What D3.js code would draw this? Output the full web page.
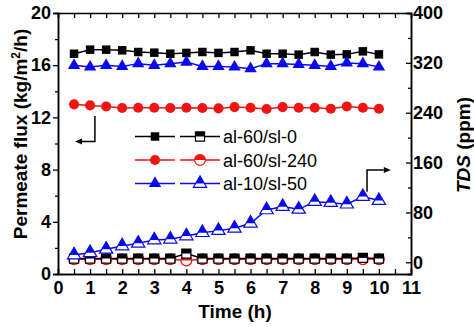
<!DOCTYPE html>
<html>
<head>
<meta charset="utf-8">
<script src="https://cdn.jsdelivr.net/npm/d3@7"></script>
<style>
  body { margin: 0; background: #fff; }
  svg { display: block; font-family: "Liberation Sans", Arial, sans-serif; }
</style>
</head>
<body>
<div id="chart"></div>
<script>
// data
const hours = [0.5, 1, 1.5, 2, 2.5, 3, 3.5, 4, 4.5, 5, 5.5, 6, 6.5, 7, 7.5, 8, 8.5, 9, 9.5, 10];

const fluxBlack = [16.88, 17.19, 17.19, 17.14, 17.01, 16.96, 16.88, 16.94, 17.01, 16.94,
                   17.01, 17.14, 16.88, 16.88, 16.81, 17.01, 16.81, 16.83, 17.06, 16.83];
const fluxRed   = [13.0, 12.92, 12.84, 12.72, 12.74, 12.74, 12.72, 12.74, 12.72, 12.69,
                   12.79, 12.74, 12.64, 12.79, 12.74, 12.74, 12.66, 12.84, 12.74, 12.66];
const fluxBlue  = [15.99, 15.86, 15.99, 15.91, 16.12, 15.99, 16.12, 16.24, 15.91, 15.91,
                   15.86, 15.73, 16.12, 16.12, 16.06, 15.99, 15.91, 16.17, 16.12, 15.86];

const tdsBlack = [6, 6, 6, 6, 6, 6, 6, 14, 6, 6, 6, 6, 6, 6, 6, 6, 6, 6, 7, 6];
const tdsRed   = [5, 5, 5, 5, 5, 5, 5, 3, 5, 5, 5, 5, 5, 5, 5, 5, 5, 5, 5, 5];
const tdsBlue  = [11.7, 15.4, 20.9, 26.2, 30.5, 35.8, 37, 42.2, 47.5, 50.8,
                  54.6, 62.7, 84, 89.3, 85, 97.3, 95.7, 93.2, 105.4, 99];

const seriesNames = ["al-60/sl-0", "al-60/sl-240", "al-10/sl-50"];

const xTicks    = [0, 1, 2, 3, 4, 5, 6, 7, 8, 9, 10, 11];
const xMinor    = [0.5, 1.5, 2.5, 3.5, 4.5, 5.5, 6.5, 7.5, 8.5, 9.5, 10.5];
const fluxTicks = [0, 4, 8, 12, 16, 20];
const fluxMinor = [2, 6, 10, 14, 18];
const tdsTicks  = [0, 80, 160, 240, 320, 400];
const tdsMinor  = [40, 120, 200, 280, 360];

// arrows pointing to the axis each group belongs to: [hour, value] in data units
const leftArrow  = [[1.15, 12.1], [1.15, 10.15], [0.53, 10.15]];
const rightArrow = [[9.63, 113], [9.63, 148], [10.37, 148]];

// layout
const W = 474, H = 327;
const plot = { left: 58, right: 411, top: 13, bottom: 274 };

const svg = d3.select("#chart").append("svg")
  .attr("width", W)
  .attr("height", H);

const x = d3.scaleLinear().domain([0, 11]).range([plot.left, plot.right]);
const y = d3.scaleLinear().domain([0, 20]).range([plot.bottom, plot.top]);
const y2 = d3.scaleLinear().domain([-18.8, 400]).range([plot.bottom, plot.top]);

const colors = ["#000000", "#f01414", "#0a0aec"];
const symbols = [d3.symbolSquare, d3.symbolCircle, d3.symbolTriangle];
const sizes = [72, 80, 66];

// top half of each marker shape, same geometry as d3.symbol for a given size
function topHalf(k, size) {
  if (k === 0) {
    const s = Math.sqrt(size) / 2;
    return `M${-s},${-s}H${s}V0H${-s}Z`;
  }
  if (k === 1) {
    const r = Math.sqrt(size / Math.PI);
    return `M${-r},0A${r},${r} 0 0 1 ${r},0Z`;
  }
  const h = Math.sqrt(size / (Math.sqrt(3) * 3));
  const w = 2 * Math.sqrt(3) * h / 3;
  return `M0,${-2 * h}L${w},0L${-w},0Z`;
}

// axes frame
function styleAxis(g) {
  g.select(".domain").attr("stroke", "#000").attr("stroke-width", 1.5);
  g.selectAll(".tick line").attr("stroke", "#000").attr("stroke-width", 1.3);
  g.selectAll("text")
    .attr("fill", "#000")
    .attr("font-size", "18px")
    .attr("font-weight", "bold")
    .attr("font-family", "'Liberation Sans', Arial, sans-serif");
}

// bottom
svg.append("g")
  .attr("transform", `translate(0,${plot.bottom})`)
  .call(d3.axisBottom(x).tickValues(xTicks).tickSize(0).tickPadding(7).tickFormat(d3.format("d")))
  .call(styleAxis);
svg.append("g")
  .attr("transform", `translate(0,${plot.bottom})`)
  .call(d3.axisBottom(x).tickValues(xTicks.concat(xMinor)).tickSize(-5).tickFormat(""))
  .call(styleAxis);
// top
svg.append("g")
  .attr("transform", `translate(0,${plot.top})`)
  .call(d3.axisTop(x).tickValues(xTicks.concat(xMinor)).tickSize(-5).tickFormat(""))
  .call(styleAxis);
// left
svg.append("g")
  .attr("transform", `translate(${plot.left},0)`)
  .call(d3.axisLeft(y).tickValues(fluxTicks).tickSize(5).tickPadding(2))
  .call(styleAxis);
svg.append("g")
  .attr("transform", `translate(${plot.left},0)`)
  .call(d3.axisLeft(y).tickValues(fluxMinor).tickSize(3).tickFormat(""))
  .call(styleAxis);
// right
svg.append("g")
  .attr("transform", `translate(${plot.right},0)`)
  .call(d3.axisRight(y2).tickValues(tdsTicks).tickSize(-5).tickPadding(2))
  .call(styleAxis);
svg.append("g")
  .attr("transform", `translate(${plot.right},0)`)
  .call(d3.axisRight(y2).tickValues(tdsMinor).tickSize(-3).tickFormat(""))
  .call(styleAxis);

// axis titles
svg.append("text")
  .attr("transform", `translate(27,134) rotate(-90)`)
  .attr("text-anchor", "middle")
  .attr("font-size", "19px")
  .attr("font-weight", "bold")
  .html('Permeate flux (kg/m<tspan dy="-7" font-size="12px">2</tspan><tspan dy="7">/h)</tspan>');

svg.append("text")
  .attr("x", 235)
  .attr("y", 318)
  .attr("text-anchor", "middle")
  .attr("font-size", "19px")
  .attr("font-weight", "bold")
  .text("Time (h)");

svg.append("text")
  .attr("transform", `translate(470,145) rotate(-90)`)
  .attr("text-anchor", "middle")
  .attr("font-size", "19px")
  .attr("font-weight", "bold")
  .html('<tspan font-style="italic">TDS</tspan> (ppm)');

// series
function drawLine(vals, scale, color) {
  const line = d3.line()
    .x((d, i) => x(hours[i]))
    .y(d => scale(d));
  svg.append("path")
    .datum(vals)
    .attr("fill", "none")
    .attr("stroke", color)
    .attr("stroke-width", 1.5)
    .attr("d", line);
}

function drawMarker(g, k, half) {
  const size = half ? sizes[k] * 1.15 : sizes[k];
  const sym = d3.symbol().type(symbols[k]).size(size);
  if (half) {
    g.append("path").attr("d", sym()).attr("fill", "#fff");
    g.append("path").attr("d", topHalf(k, size)).attr("fill", colors[k]);
    g.append("path").attr("d", sym()).attr("fill", "none")
      .attr("stroke", colors[k]).attr("stroke-width", 1.2);
  } else {
    g.append("path").attr("d", sym()).attr("fill", colors[k]);
  }
}

function drawSeries(vals, scale, k, half) {
  drawLine(vals, scale, colors[k]);
  vals.forEach((v, i) => {
    const g = svg.append("g").attr("transform", `translate(${x(hours[i])},${scale(v)})`);
    drawMarker(g, k, half);
  });
}

const fluxSets = [fluxBlack, fluxRed, fluxBlue];
const tdsSets = [tdsBlack, tdsRed, tdsBlue];

[1, 0, 2].forEach(k => {
  drawSeries(fluxSets[k], y, k, false);
  drawSeries(tdsSets[k], y2, k, true);
});

// legend
const legendRows = [136.5, 160, 183.5];
seriesNames.forEach((name, k) => {
  const ly = legendRows[k];
  [[135, 175, 155, false], [180, 220, 200, true]].forEach(([x1, x2, mx, half]) => {
    svg.append("line")
      .attr("x1", x1).attr("x2", x2).attr("y1", ly).attr("y2", ly)
      .attr("stroke", colors[k]).attr("stroke-width", 1.5);
    const g = svg.append("g").attr("transform", `translate(${mx},${ly})`);
    drawMarker(g, k, half);
  });
  svg.append("text")
    .attr("x", 223).attr("y", ly + 6.5)
    .attr("font-size", "18px")
    .text(name);
});

// arrows
function drawArrow(pts, scale) {
  const p = pts.map(d => [x(d[0]), scale(d[1])]);
  const end = p[p.length - 1], prev = p[p.length - 2];
  const dir = Math.sign(end[0] - prev[0]);
  const head = 7;
  const shaft = p.slice(0, -1).concat([[end[0] - dir * head, end[1]]]);
  svg.append("path")
    .attr("d", d3.line()(shaft))
    .attr("fill", "none")
    .attr("stroke", "#000")
    .attr("stroke-width", 1.5);
  svg.append("path")
    .attr("d", `M${end[0]},${end[1]} L${end[0] - dir * head},${end[1] - 3} L${end[0] - dir * head},${end[1] + 3} Z`)
    .attr("fill", "#000");
}
drawArrow(leftArrow, y);
drawArrow(rightArrow, y2);
</script>
</body>
</html>
